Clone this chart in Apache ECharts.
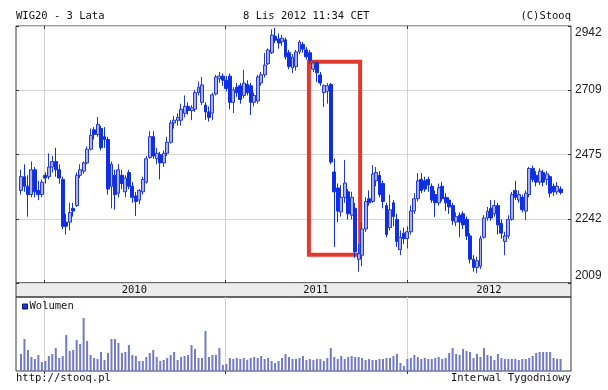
<!DOCTYPE html>
<html><head><meta charset="utf-8">
<script src="https://cdn.jsdelivr.net/npm/echarts@6/dist/echarts.min.js"></script>
<style>html,body{margin:0;padding:0;background:#fff}#c{width:608px;height:390px}</style>
</head><body><div id="c"></div>
<script>
// Weekly candles (week start, Monday)
const dates = [
'2009-11-16','2009-11-23','2009-11-30','2009-12-07','2009-12-14','2009-12-21','2009-12-28',
'2010-01-04','2010-01-11','2010-01-18','2010-01-25','2010-02-01','2010-02-08','2010-02-15','2010-02-22',
'2010-03-01','2010-03-08','2010-03-15','2010-03-22','2010-03-29','2010-04-05','2010-04-12','2010-04-19','2010-04-26',
'2010-05-03','2010-05-10','2010-05-17','2010-05-24','2010-05-31','2010-06-07','2010-06-14','2010-06-21','2010-06-28',
'2010-07-05','2010-07-12','2010-07-19','2010-07-26','2010-08-02','2010-08-09','2010-08-16','2010-08-23','2010-08-30',
'2010-09-06','2010-09-13','2010-09-20','2010-09-27','2010-10-04','2010-10-11','2010-10-18','2010-10-25',
'2010-11-01','2010-11-08','2010-11-15','2010-11-22','2010-11-29','2010-12-06','2010-12-13','2010-12-20','2010-12-27',
'2011-01-03','2011-01-10','2011-01-17','2011-01-24','2011-01-31','2011-02-07','2011-02-14','2011-02-21','2011-02-28',
'2011-03-07','2011-03-14','2011-03-21','2011-03-28','2011-04-04','2011-04-11','2011-04-18','2011-04-25',
'2011-05-02','2011-05-09','2011-05-16','2011-05-23','2011-05-30','2011-06-06','2011-06-13','2011-06-20','2011-06-27',
'2011-07-04','2011-07-11','2011-07-18','2011-07-25','2011-08-01','2011-08-08','2011-08-15','2011-08-22','2011-08-29',
'2011-09-05','2011-09-12','2011-09-19','2011-09-26','2011-10-03','2011-10-10','2011-10-17','2011-10-24','2011-10-31',
'2011-11-07','2011-11-14','2011-11-21','2011-11-28','2011-12-05','2011-12-12','2011-12-19','2011-12-26',
'2012-01-02','2012-01-09','2012-01-16','2012-01-23','2012-01-30','2012-02-06','2012-02-13','2012-02-20','2012-02-27',
'2012-03-05','2012-03-12','2012-03-19','2012-03-26','2012-04-02','2012-04-09','2012-04-16','2012-04-23','2012-04-30',
'2012-05-07','2012-05-14','2012-05-21','2012-05-28','2012-06-04','2012-06-11','2012-06-18','2012-06-25',
'2012-07-02','2012-07-09','2012-07-16','2012-07-23','2012-07-30','2012-08-06','2012-08-13','2012-08-20','2012-08-27',
'2012-09-03','2012-09-10','2012-09-17','2012-09-24','2012-10-01','2012-10-08','2012-10-15','2012-10-22','2012-10-29',
'2012-11-05'];

const open = [2345,2395,2360,2330,2420,2345,2330,2400,2395,2430,2450,2420,2385,2230,2230,2280,2290,2400,2415,2445,
2495,2565,2548,2570,2540,2530,2360,2400,2335,2400,2340,2410,2360,2325,2310,2340,2375,2465,2540,2460,
2475,2445,2480,2520,2590,2600,2600,2625,2650,2635,2640,2700,2665,2655,2630,2626,2695,2750,2760,2745,
2760,2665,2720,2725,2690,2730,2725,2665,2670,2735,2765,2805,2845,2905,2895,2885,2892,2845,2790,2795,
2848,2875,2855,2845,2785,2808,2764,2700,2705,2730,2412,2354,2267,2320,2340,2255,2280,2095,2110,2205,
2315,2305,2380,2400,2370,2290,2210,2300,2240,2130,2190,2170,2195,2270,2315,2385,2380,2385,2360,2330,
2300,2360,2320,2310,2290,2230,2255,2260,2240,2180,2095,2065,2070,2175,2245,2280,2260,2290,2225,2160,
2180,2240,2345,2310,2320,2270,2330,2425,2400,2375,2410,2385,2395,2360,2340,2350];
const close = [2395,2360,2330,2420,2340,2330,2375,2390,2430,2450,2420,2390,2215,2215,2265,2270,2400,2420,2445,2495,
2545,2548,2585,2500,2530,2350,2440,2330,2420,2370,2390,2360,2320,2305,2345,2385,2460,2540,2470,2480,
2445,2480,2520,2590,2600,2610,2640,2650,2635,2645,2700,2720,2728,2630,2610,2692,2757,2760,2745,2715,
2665,2710,2700,2675,2735,2700,2665,2690,2757,2765,2800,2855,2909,2890,2880,2898,2830,2795,2829,2848,
2884,2858,2830,2818,2808,2772,2735,2725,2725,2448,2340,2270,2320,2372,2260,2320,2122,2115,2205,2305,
2300,2405,2410,2330,2305,2185,2275,2250,2160,2175,2170,2195,2270,2315,2380,2345,2350,2365,2310,2300,
2355,2315,2300,2285,2235,2250,2230,2220,2180,2095,2065,2090,2170,2245,2270,2245,2290,2220,2190,2180,
2240,2330,2320,2330,2275,2335,2425,2385,2375,2415,2375,2405,2335,2340,2360,2337];
const low = [2330,2340,2250,2320,2320,2310,2320,2370,2385,2410,2395,2370,2205,2185,2200,2250,2285,2390,2405,2440,
2490,2530,2540,2490,2500,2330,2280,2275,2320,2350,2320,2350,2300,2252,2295,2330,2370,2460,2460,2440,
2385,2430,2470,2515,2570,2580,2580,2610,2620,2600,2630,2690,2655,2601,2595,2600,2690,2735,2725,2705,
2640,2626,2685,2660,2680,2690,2619,2650,2660,2725,2755,2800,2840,2880,2860,2870,2820,2785,2771,2780,
2840,2845,2820,2805,2775,2739,2725,2648,2660,2440,2140,2230,2250,2300,2240,2240,2100,2050,2070,2195,
2290,2300,2360,2320,2280,2175,2200,2215,2140,2110,2150,2135,2185,2260,2305,2335,2340,2340,2300,2249,
2290,2305,2270,2260,2220,2215,2176,2205,2165,2080,2050,2045,2060,2170,2235,2235,2250,2185,2170,2110,
2170,2235,2310,2300,2265,2238,2320,2375,2360,2365,2360,2365,2320,2325,2330,2330];
const high = [2420,2440,2400,2450,2430,2380,2385,2410,2480,2470,2500,2440,2395,2260,2300,2300,2410,2440,2450,2505,
2570,2575,2612,2580,2575,2540,2450,2420,2440,2420,2400,2420,2375,2340,2350,2395,2470,2560,2560,2500,
2485,2490,2540,2600,2615,2625,2660,2690,2665,2655,2710,2740,2757,2665,2650,2700,2765,2775,2770,2760,
2770,2720,2735,2735,2782,2745,2735,2700,2765,2775,2844,2860,2930,2935,2915,2910,2900,2855,2840,2855,
2891,2885,2865,2855,2815,2815,2775,2730,2735,2735,2460,2370,2365,2456,2350,2340,2300,2150,2230,2320,
2345,2437,2430,2415,2380,2300,2330,2310,2260,2200,2210,2215,2290,2335,2408,2408,2395,2395,2370,2345,
2370,2375,2335,2320,2300,2265,2265,2270,2250,2190,2110,2105,2180,2255,2285,2310,2310,2300,2240,2195,
2255,2340,2380,2345,2330,2345,2430,2435,2415,2425,2420,2415,2400,2370,2375,2360];
const volume = [170,320,210,140,120,160,90,100,150,170,230,130,150,360,200,210,310,270,530,300,
160,130,120,190,110,180,320,320,280,180,190,260,160,150,100,100,140,180,210,140,
100,110,130,160,190,110,140,150,160,260,220,130,130,400,140,160,160,230,60,70,
130,120,130,120,130,110,130,140,130,150,120,130,100,80,100,130,170,140,120,120,
130,150,110,120,110,120,120,100,130,230,140,120,150,120,140,150,140,140,130,110,
120,110,110,120,120,130,130,150,170,80,50,120,130,160,140,120,130,120,120,130,
140,120,130,180,230,170,160,220,200,190,130,170,140,230,160,150,110,170,130,120,
120,120,120,110,120,120,130,150,180,190,190,190,190,130,120,120];

const priceTicks = [2009, 2242, 2475, 2709, 2942];
const yearTicks = ['2010-01-01', '2011-01-01', '2012-01-01'];
const yearLabelAt = ['2010-07-02', '2011-07-02', '2012-06-14'];
const axisRange = ['2009-11-06', '2012-11-26'];
const highlightBox = [['2011-06-18', 2812], ['2011-09-29', 2112]];

function ts(s) { const p = s.split('-').map(Number); return Date.UTC(p[0], p[1] - 1, p[2]); }

const candles = dates.map((d, i) => [ts(d), open[i], close[i], low[i], high[i]]);
const vols = dates.map((d, i) => [ts(d), volume[i]]);
const yT = yearTicks.map(ts);
const mono = 'DejaVu Sans Mono';
const txt = (t, pos) => Object.assign({ text: t, padding: 0, textStyle: { fontFamily: mono, fontSize: 10.5, fontWeight: 'normal', color: '#111' } }, pos);
const frame = { show: true, borderColor: '#383838', borderWidth: 1, outerBoundsMode: 'none', containLabel: false };
const xBase = { type: 'value', min: ts(axisRange[0]), max: ts(axisRange[1]), scale: true, axisLine: { show: false }, axisLabel: { show: false }, splitLine: { show: false } };

const chart = echarts.init(document.getElementById('c'), null, { renderer: 'canvas' });
chart.setOption({
  animation: false,
  backgroundColor: '#fff',
  title: [
    txt('WIG20 - 3 Lata', { left: 16, top: 10.5 }),
    txt('8 Lis 2012 11:34 CET', { left: 243, top: 10.5 }),
    txt('(C)Stooq', { right: 37, top: 10.5 }),
    txt('http://stooq.pl', { left: 16, top: 373 }),
    txt('Interwal Tygodniowy', { right: 37, top: 373 })
  ],
  legend: {
    left: 22, top: 301, padding: 0, itemWidth: 5, itemHeight: 5, icon: 'rect', selectedMode: false,
    textStyle: { fontFamily: mono, fontSize: 10.5, color: '#111', padding: [0, 0, 0, -3] },
    data: [{ name: 'Wolumen', itemStyle: { color: '#1a35d6', borderColor: '#0b1670', borderWidth: 1 } }]
  },
  grid: [
    Object.assign({ left: 16, top: 26, width: 555, height: 257 }, frame),
    Object.assign({ left: 16, top: 283, width: 555, height: 14, backgroundColor: '#ececec' }, frame),
    Object.assign({ left: 16, top: 297, width: 555, height: 74 }, frame)
  ],
  xAxis: [
    Object.assign({}, xBase, { gridIndex: 0, position: 'bottom',
      axisTick: { show: true, inside: true, length: 3, customValues: yT, lineStyle: { color: '#333' } },
      splitLine: { show: true, lineStyle: { color: '#d2d2d2' } } }),
    Object.assign({}, xBase, { gridIndex: 0, position: 'top',
      axisTick: { show: true, inside: true, length: 3, customValues: yT, lineStyle: { color: '#333' } } }),
    Object.assign({}, xBase, { gridIndex: 1, position: 'bottom',
      axisTick: { show: false, customValues: yT },
      axisLabel: { show: true, inside: true, margin: 1.5, customValues: yearLabelAt.map(ts),
        formatter: v => String(new Date(v).getUTCFullYear()), fontFamily: mono, fontSize: 10.5, color: '#111' } }),
    Object.assign({}, xBase, { gridIndex: 2, position: 'top',
      axisTick: { show: true, inside: true, length: 3, customValues: yT, lineStyle: { color: '#333' } },
      splitLine: { show: true, lineStyle: { color: '#d2d2d2' } } })
  ],
  yAxis: [
    { type: 'value', gridIndex: 0, position: 'right', min: priceTicks[0], max: priceTicks[priceTicks.length - 1],
      axisLine: { show: false },
      axisTick: { show: true, inside: true, length: 3, customValues: priceTicks, lineStyle: { color: '#333' } },
      splitLine: { show: true, lineStyle: { color: '#d6d6d6' } },
      axisLabel: { customValues: priceTicks, margin: 4, color: '#222', fontFamily: 'Liberation Sans', fontSize: 12,
        formatter: v => {
          const s = String(Math.round(v));
          if (v === priceTicks[priceTicks.length - 1]) return '{t|' + s + '}';
          if (v === priceTicks[0]) return '{b|' + s + '}';
          return s;
        },
        rich: {
          t: { padding: [14, 0, 0, 0], color: '#222', fontFamily: 'Liberation Sans', fontSize: 12 },
          b: { padding: [0, 0, 14, 0], color: '#222', fontFamily: 'Liberation Sans', fontSize: 12 }
        } } },
    { type: 'value', gridIndex: 0, position: 'left', min: priceTicks[0], max: priceTicks[priceTicks.length - 1],
      axisLine: { show: false }, axisLabel: { show: false }, splitLine: { show: false },
      axisTick: { show: true, inside: true, length: 3, customValues: priceTicks, lineStyle: { color: '#333' } } },
    { type: 'value', gridIndex: 1, min: 0, max: 1, show: false },
    { type: 'value', gridIndex: 2, min: 0, max: 740, show: false }
  ],
  series: [
    { type: 'candlestick', name: 'WIG20', xAxisIndex: 0, yAxisIndex: 0, data: candles, barWidth: 3.4,
      itemStyle: { color: '#a9b1ec', color0: '#0f2fe2', borderColor: '#2238d0', borderColor0: '#0f2fe2', borderWidth: 1 },
      markArea: { silent: true, itemStyle: { color: 'rgba(0,0,0,0)', borderColor: '#e2392e', borderWidth: 4 },
        data: [[{ coord: [ts(highlightBox[0][0]), highlightBox[0][1]] }, { coord: [ts(highlightBox[1][0]), highlightBox[1][1]] }]] } },
    { type: 'bar', name: 'Wolumen', xAxisIndex: 3, yAxisIndex: 3, data: vols, barWidth: 2,
      itemStyle: { color: '#737ac4' } }
  ]
});
</script></body></html>
